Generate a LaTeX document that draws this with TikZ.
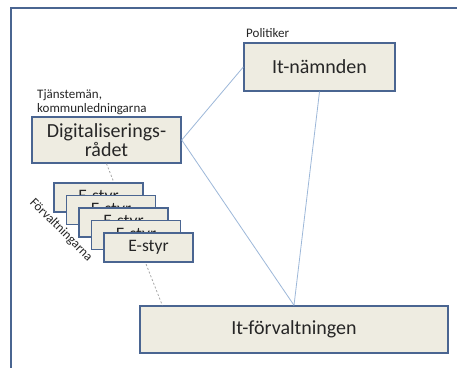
\documentclass[tikz,border=0pt]{standalone}
\usepackage{fontspec}
\setmainfont{Carlito}
\usetikzlibrary{calc}
\definecolor{boxfill}{HTML}{EEECE1}
\definecolor{boxline}{HTML}{4A6591}
\definecolor{conn}{HTML}{9DB8D9}
\definecolor{dashc}{HTML}{A6A6A6}
\definecolor{txt}{HTML}{262626}
\tikzset{
  box/.style={draw=boxline, line width=1.4pt, fill=boxfill, inner sep=0pt, text=txt, align=center, font=\fontsize{20}{20}\selectfont},
  lbl/.style={text=txt, inner sep=0pt, font=\fontsize{13}{14}\selectfont},
  connline/.style={draw=conn, line width=0.8pt},
  dashline/.style={draw=dashc, line width=0.8pt, dashed, dash pattern=on 2pt off 2pt}
}
\begin{document}
\begin{tikzpicture}[x=1pt,y=-1pt]
\useasboundingbox (0,0) rectangle (457,367);
\fill[white] (0,0) rectangle (457,367);
\draw[boxline, line width=1.3pt] (11,8) rectangle (475,385);

\node[box, minimum width=151pt, minimum height=48pt] (nam) at (319.5,67) {It-nämnden};
\node[box, minimum width=149pt, minimum height=46pt] (dig) at (106.5,140) {Digitaliserings-\\[-1pt]rådet};
\node[box, minimum width=308pt, minimum height=47pt] (forv) at (294,329.5) {It-förvaltningen};

\node[lbl, anchor=west] (pol) at (246,33) {Politiker};
\node[lbl, anchor=west, align=left] (tj) at (37,102) {Tjänstemän,\\kommunledningarna};
\node[lbl, rotate=-45] (fo) at (61,230) {Förvaltningarna};

\coordinate (fdash) at ($(forv.north west)+(23,0)$);
\draw[connline] (dig.east) -- (nam.west);
\draw[connline] (dig.east) -- (forv.north);
\draw[connline] (nam.south) -- (forv.north);
\draw[dashline] (dig.south) -- (fdash);

\foreach \i in {0,...,4}{
  \node[box, minimum width=89pt, minimum height=29pt, font=\fontsize{17.5}{18}\selectfont] (es\i) at ({98.5+12.5*\i},{197.5+12.5*\i}) {E-styr};
}
\end{tikzpicture}
\end{document}
